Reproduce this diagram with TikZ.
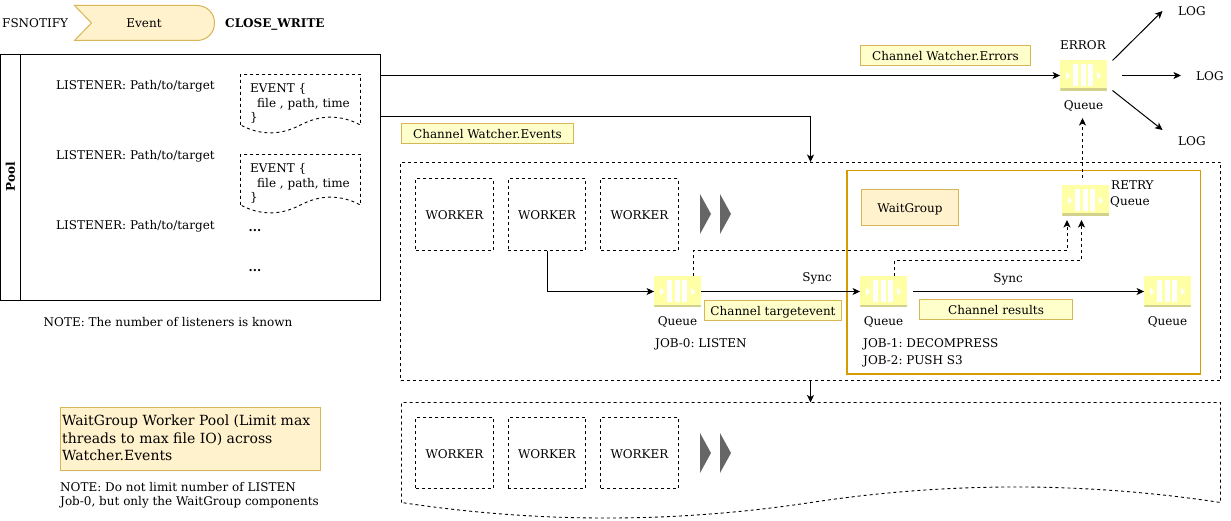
\documentclass[tikz,border=0pt]{standalone}
\usepackage{fontspec}
\setmainfont{DejaVu Serif}
\usetikzlibrary{arrows.meta,calc}

\definecolor{noteFill}{HTML}{FFF2CC}
\definecolor{noteLine}{HTML}{D6B656}
\definecolor{chanFill}{HTML}{FFFFCC}
\definecolor{groupLine}{HTML}{D79B00}
\definecolor{queueFill}{HTML}{FFFFA6}
\definecolor{queueBase}{HTML}{D2D28C}

\tikzset{
	every node/.style={inner sep=0pt,font=\fontsize{12}{14.5}\selectfont,text=black},
	lab/.style={anchor=base west},
	labc/.style={anchor=base},
	flow/.style={-{Stealth[length=7.5pt,width=7pt,inset=2pt]},line width=1pt},
	wait/.style={flow,dash pattern=on 3pt off 3pt},
	box/.style={draw=black,dash pattern=on 3pt off 3pt,line width=0.9pt},
	worker/.style={box,minimum width=77.5pt,minimum height=71.5pt,text height=10pt,text depth=0pt},
	chan/.style={draw=noteLine,fill=chanFill,line width=1pt,text height=10pt,text depth=0pt},
	queue/.style={fill=queueFill,minimum width=46.5pt,minimum height=30.5pt,path picture={
		\begin{scope}[shift={(path picture bounding box.center)}]
			\foreach \x in {-10.5,-2.5,4.5}
				\fill [white] (\x,-11.5) rectangle ++(5,22);
			\fill [white] (-17.5,-4) -- (-13.5,0) -- (-17.5,4) -- cycle;
			\fill [white] (13.5,-4) -- (17.5,0) -- (13.5,4) -- cycle;
			\fill [queueBase] (-23.5,13) rectangle (23.5,15.5);
		\end{scope}}},
}

\begin{document}
\begin{tikzpicture}[x=1pt,y=-1pt]
	\useasboundingbox (0,0) rectangle (1231,521);

	\node [lab] (N1) at (2,28) {FSNOTIFY};
	\draw [draw=noteLine,fill=noteFill,line width=1pt] (74.5,5.5) -- (197,5.5)
		.. controls (207,5.5) and (214.5,13) .. (214.5,23)
		.. controls (214.5,33) and (207,40.5) .. (197,40.5) -- (74.5,40.5) -- (91.5,23) -- cycle;
	\node [labc] (N2) at (144,28) {Event};
	\node [lab,font=\fontsize{12}{14.5}\selectfont\bfseries] (N3) at (225,28) {CLOSE\_WRITE};

	\node [draw=black,line width=1pt,minimum width=380pt,minimum height=246pt] (Pool) at (190.5,177.5) {};
	\draw [line width=1pt] (Pool.north west) ++(20,0) -- ++(0,246);
	\node [rotate=90,font=\fontsize{12}{14.5}\selectfont\bfseries] (PoolT) at (10.5,177) {Pool};

	\foreach \n/\y in {1/90,2/160,3/230}
		\node [lab] (L\n) at (56,\y) {LISTENER: Path/to/target};
	% event documents
	\foreach \n/\y in {1/0,2/80}{
		\draw [box,shift={(0,\y)}] (240.5,125) -- (240.5,74.5) -- (360.5,74.5) -- (360.5,125)
			.. controls (340.5,114.5) and (320.5,114.5) .. (300.5,125)
			.. controls (280.5,135.5) and (260.5,135.5) .. (240.5,125);
		\node [anchor=north west,align=left] (D\n) at (250,83.5+\y) {EVENT \{\\ \hspace*{7pt}file , path, time\\\}};
	}
	\node [lab,font=\fontsize{12}{14.5}\selectfont\bfseries] (E1) at (248.5,232) {...};
	\node [lab,font=\fontsize{12}{14.5}\selectfont\bfseries] (E2) at (248.5,272) {...};
	\node [lab] (N4) at (43.5,326.5) {NOTE: The number of listeners is known};

	\node [chan,minimum width=169.5pt,minimum height=20pt] (C1) at (945.5,55.5) {Channel Watcher.Errors};
	\node [chan,minimum width=171.5pt,minimum height=20pt] (C2) at (487.5,133.5) {Channel Watcher.Events};

	% main panel
	\node [box,minimum width=820pt,minimum height=218pt] (B1) at (810.5,271.5) {};
	\node [draw=groupLine,line width=1.1pt,minimum width=353.5pt,minimum height=203.5pt] (G0) at (1023.75,272.25) {};
	\foreach \n/\x in {1/454.5,2/547,3/639.5}{
		\node [worker] (W\n) at (\x,214.5) {WORKER};
		\node [worker] (V\n) at (\x,453) {WORKER};
	}
	\foreach \x in {700,720}
		\foreach \y in {214,453}
			\fill [black!60] (\x,\y-20) -- (\x+11,\y) -- (\x,\y+20) -- cycle;

	\node [queue] (Q0) at (1083.5,75.5) {};
	\node [queue] (QR) at (1085.5,200.5) {};
	\node [queue] (Q1) at (677.5,291.5) {};
	\node [queue] (Q2) at (883.5,291.5) {};
	\node [queue] (Q3) at (1167.5,291.5) {};

	\node [labc] (T0) at (1083,49.5) {ERROR};
	\foreach \n/\x/\y in {0/1083.5/109.5,1/677.5/325,2/883.5/325,3/1167.5/325}
		\node [labc] (U\n) at (\x,\y) {Queue};
	\node [lab] (T1) at (1111,190) {RETRY};
	\node [lab] (T2) at (1110,206) {Queue};
	\node [labc] (S1) at (817,281) {Sync};
	\node [labc] (S2) at (1008,282.5) {Sync};
	\node [lab] (J0) at (655,347) {JOB-0:\ LISTEN};
	\node [lab] (J1) at (863,347) {JOB-1:\ DECOMPRESS};
	\node [lab] (J2) at (863,364.5) {JOB-2:\ PUSH S3};

	\node [chan,minimum width=137pt,minimum height=20pt] (C3) at (773,310.5) {Channel targetevent};
	\node [chan,minimum width=153pt,minimum height=20pt] (C4) at (996,309.5) {Channel results};
	\node [draw=noteLine,fill=noteFill,line width=1pt,minimum width=97pt,minimum height=36.5pt,text height=10pt,text depth=0pt] (G1) at (910,207.75) {WaitGroup};

	% lower panel
	\coordinate (B2) at (810.5,402.5);
	\draw [box] (401.5,502.5) -- (401.5,402.5) -- (1220.5,402.5) -- (1220.5,502.5)
		.. controls (1084,481.8) and (947.5,481.8) .. (811,502.5)
		.. controls (674,523.2) and (538,523.2) .. (401.5,502.5);

	\node [draw=noteLine,fill=noteFill,line width=1pt,minimum width=260pt,minimum height=63pt] (G2) at (190.5,439) {};
	\node [anchor=north west,align=left,font=\fontsize{14}{17.5}\selectfont] (G3) at (62,415) {WaitGroup Worker Pool (Limit max\\threads to max file IO) across\\Watcher.Events};
	\node [anchor=north west,align=left,font=\fontsize{12}{14}\selectfont] (N5) at (60,482) {NOTE: Do not limit number of LISTEN\\Job-0, but only the WaitGroup components};

	% connectors
	\coordinate (S) at (810.5,116.5);
	\draw [flow] (Pool.east |- Q0) -- (Q0);
	\draw [flow] (Pool.east |- S) -- (S) -- (B1.north);
	\draw [flow] (B1.south) -- (B2);
	\draw [flow] (W2) |- (Q1);
	\draw [flow] (Q1) -- (Q2);
	\coordinate (A2) at (913,291.5);
	\draw [flow] (A2) -- (Q3);

	\coordinate (R1) at (1067,220);
	\coordinate (R2) at (1081.5,220);
	\coordinate (R3) at (1082.5,178);
	\coordinate (R4) at (1082.5,118);
	\coordinate (F1) at (693.5,276.5);
	\coordinate (F2) at (894.5,276.5);
	\draw [wait] (F1) -- (693.5,250.5) -- (1067,250.5) -- (R1);
	\draw [wait] (F2) -- (894.5,260.5) -- (1081.5,260.5) -- (R2);
	\draw [wait] (R3) -- (R4);

	\node [lab] (O1) at (1178,16) {LOG};
	\node [lab] (O2) at (1196,81) {LOG};
	\node [lab] (O3) at (1178,146) {LOG};
	\coordinate (X1) at (1112.5,60.5);
	\coordinate (X2) at (1121.5,75.5);
	\coordinate (X3) at (1112.5,90.5);
	\draw [flow] (X1) -- (1162.5,11);
	\draw [flow] (X2) -- (1181,75.5);
	\draw [flow] (X3) -- (1162.5,130);
\end{tikzpicture}
\end{document}
